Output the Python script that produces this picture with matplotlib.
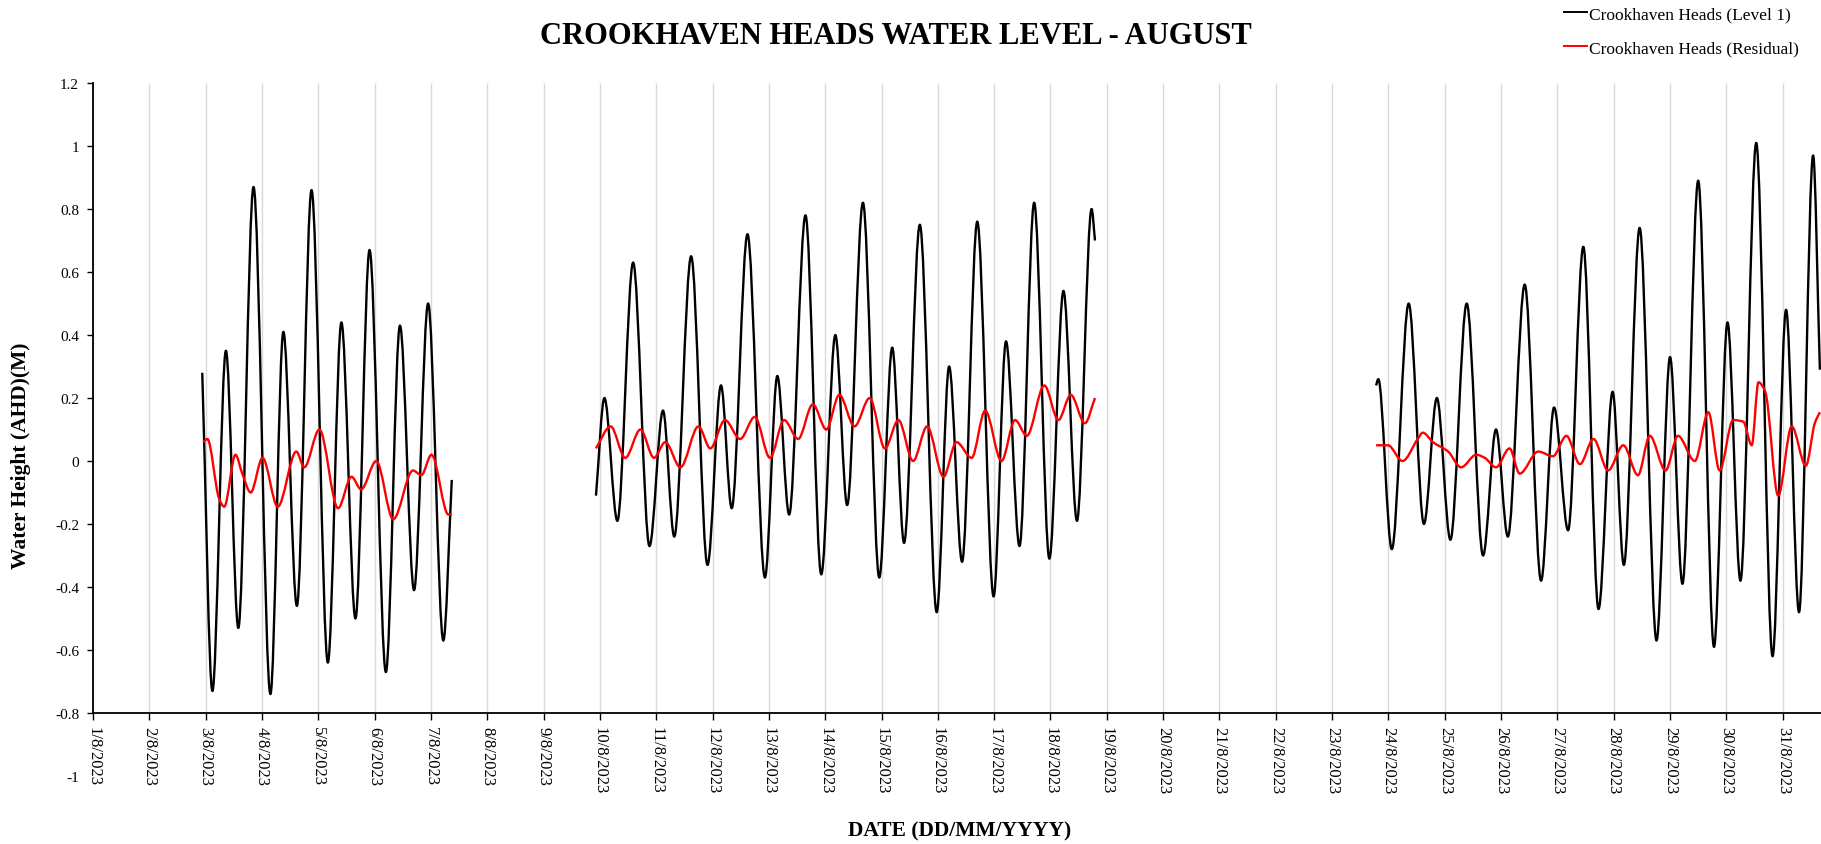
import matplotlib
matplotlib.use("Agg")
import numpy as np
import matplotlib.pyplot as plt
from matplotlib.lines import Line2D
from matplotlib.path import Path
from matplotlib.patches import PathPatch

plt.rcParams["font.family"] = ["Liberation Serif", "DejaVu Serif"]

# Time axis is the day of August 2023 (fractional days)
level_t1 = [2.94, 3.12, 3.36, 3.58, 3.85, 4.15, 4.38, 4.62, 4.88, 5.17, 5.41, 5.66,
            5.91, 6.20, 6.45, 6.70, 6.95, 7.22, 7.37]
level_v1 = [0.28, -0.73, 0.35, -0.53, 0.87, -0.74, 0.41, -0.46, 0.86, -0.64, 0.44, -0.50,
            0.67, -0.67, 0.43, -0.41, 0.50, -0.57, -0.06]

level_t2 = [9.93, 10.08, 10.31, 10.59, 10.88, 11.12, 11.32, 11.62, 11.91, 12.15, 12.34,
            12.62, 12.93, 13.15, 13.36, 13.65, 13.93, 14.18, 14.39, 14.67, 14.96, 15.19,
            15.40, 15.68, 15.98, 16.20, 16.43, 16.70, 16.99, 17.21, 17.45, 17.71, 17.98,
            18.23, 18.47, 18.73, 18.79]
level_v2 = [-0.11, 0.20, -0.19, 0.63, -0.27, 0.16, -0.24, 0.65, -0.33, 0.24, -0.15,
            0.72, -0.37, 0.27, -0.17, 0.78, -0.36, 0.40, -0.14, 0.82, -0.37, 0.36,
            -0.26, 0.75, -0.48, 0.30, -0.32, 0.76, -0.43, 0.38, -0.27, 0.82, -0.31,
            0.54, -0.19, 0.80, 0.70]

level_t3 = [23.78, 23.82, 24.06, 24.36, 24.63, 24.86, 25.10, 25.39, 25.68, 25.91, 26.12,
            26.42, 26.71, 26.94, 27.19, 27.46, 27.73, 27.98, 28.18, 28.46, 28.76, 29.00,
            29.22, 29.50, 29.78, 30.02, 30.25, 30.53, 30.82, 31.06, 31.29, 31.54, 31.66]
level_v3 = [0.24, 0.26, -0.28, 0.50, -0.20, 0.20, -0.25, 0.50, -0.30, 0.10, -0.24,
            0.56, -0.38, 0.17, -0.22, 0.68, -0.47, 0.22, -0.33, 0.74, -0.57, 0.33,
            -0.39, 0.89, -0.59, 0.44, -0.38, 1.01, -0.62, 0.48, -0.48, 0.97, 0.29]

resid_t1 = [2.96, 3.03, 3.24, 3.33, 3.53, 3.65, 3.80, 4.01, 4.28, 4.61, 4.75, 5.02,
            5.35, 5.59, 5.76, 6.03, 6.33, 6.68, 6.83, 7.01, 7.31, 7.37]
resid_v1 = [0.06, 0.07, -0.12, -0.145, 0.02, -0.04, -0.10, 0.01, -0.145, 0.03, -0.02, 0.10,
            -0.15, -0.05, -0.09, 0.0, -0.185, -0.03, -0.045, 0.02, -0.17, -0.17]

resid_t2 = [9.93, 10.19, 10.45, 10.72, 10.96, 11.16, 11.43, 11.75, 11.96, 12.22, 12.49,
            12.75, 13.02, 13.27, 13.52, 13.78, 14.02, 14.25, 14.52, 14.79, 15.06, 15.30,
            15.56, 15.81, 16.10, 16.33, 16.60, 16.84, 17.13, 17.37, 17.58, 17.89, 18.14,
            18.36, 18.61, 18.79]
resid_v2 = [0.04, 0.11, 0.01, 0.10, 0.01, 0.06, -0.02, 0.11, 0.04, 0.13, 0.07,
            0.14, 0.01, 0.13, 0.07, 0.18, 0.10, 0.21, 0.11, 0.20, 0.04, 0.13,
            0.0, 0.11, -0.05, 0.06, 0.01, 0.16, 0.0, 0.13, 0.08, 0.24, 0.13,
            0.21, 0.12, 0.20]

resid_t3 = [23.78, 23.99, 24.25, 24.52, 24.61, 24.79, 25.06, 25.29, 25.56, 25.71, 25.91,
            26.15, 26.33, 26.66, 26.92, 27.16, 27.40, 27.64, 27.90, 28.17, 28.43, 28.64,
            28.92, 29.14, 29.44, 29.68, 29.88, 30.12, 30.30, 30.45, 30.57, 30.69, 30.92,
            31.16, 31.41, 31.57, 31.66]
resid_v3 = [0.05, 0.05, 0.0, 0.07, 0.09, 0.06, 0.03, -0.02, 0.02, 0.01, -0.02,
            0.04, -0.04, 0.03, 0.015, 0.08, -0.01, 0.07, -0.03, 0.05, -0.045, 0.08,
            -0.03, 0.08, 0.0, 0.155, -0.03, 0.13, 0.125, 0.05, 0.25, 0.22, -0.11,
            0.11, -0.015, 0.12, 0.155]

tick_days = list(range(1, 32))
tick_labels = [f"{d}/8/2023" for d in tick_days]
y_ticks = [-1, -0.8, -0.6, -0.4, -0.2, 0, 0.2, 0.4, 0.6, 0.8, 1, 1.2]
y_labels = ["-1", "-0.8", "-0.6", "-0.4", "-0.2", "0", "0.2", "0.4", "0.6", "0.8", "1", "1.2"]

LEVEL_COLOR = "black"
RESID_COLOR = "#ff0000"
LINE_W = 1.7


def smoothed_line(ax, t, v, color, lw):
    """Smoothed line through the readings (monotone cubic Bezier segments)."""
    t = np.asarray(t, float)
    v = np.asarray(v, float)
    h = np.diff(t)
    d = np.diff(v) / h
    m = np.empty_like(v)
    m[0], m[-1] = d[0], d[-1]
    for i in range(1, len(v) - 1):
        if d[i - 1] * d[i] <= 0:
            m[i] = 0.0
        else:
            m[i] = 2.0 / (1.0 / d[i - 1] + 1.0 / d[i])
    verts = [(t[0], v[0])]
    codes = [Path.MOVETO]
    for i in range(len(v) - 1):
        verts += [(t[i] + h[i] / 3, v[i] + m[i] * h[i] / 3),
                  (t[i + 1] - h[i] / 3, v[i + 1] - m[i + 1] * h[i] / 3),
                  (t[i + 1], v[i + 1])]
        codes += [Path.CURVE4] * 3
    patch = PathPatch(Path(verts, codes), fill=False, edgecolor=color, lw=lw,
                      joinstyle="round", capstyle="butt", zorder=3)
    ax.add_patch(patch)


fig = plt.figure(figsize=(18.21, 8.45), dpi=100)
ax = fig.add_axes([93 / 1821, 68 / 845, 1 - 93 / 1821, 0.8201])

# Vertical day gridlines, drawn only over the area above the date axis
ax.vlines(tick_days, -0.8, 1.2, color="#d9d9d9", lw=1.0, zorder=0)

for t, v in [(level_t1, level_v1), (level_t2, level_v2), (level_t3, level_v3)]:
    smoothed_line(ax, t, v, LEVEL_COLOR, LINE_W)
for t, v in [(resid_t1, resid_v1), (resid_t2, resid_v2), (resid_t3, resid_v3)]:
    smoothed_line(ax, t, v, RESID_COLOR, LINE_W)

ax.set_xlim(1, 31.68)
ax.set_ylim(-1, 1.2)

ax.spines["top"].set_visible(False)
ax.spines["right"].set_visible(False)
ax.spines["bottom"].set_position(("data", -0.8))
ax.spines["left"].set_bounds(-0.8, 1.2)
for s in ("bottom", "left"):
    ax.spines[s].set_linewidth(1.3)

ax.set_yticks(y_ticks)
ax.set_yticklabels(y_labels, fontsize=11)
ax.yaxis.get_major_ticks()[0].tick1line.set_visible(False)
ax.tick_params(axis="y", length=4, width=1, pad=6)

ax.set_xticks(tick_days)
ax.set_xticklabels(tick_labels, rotation=270, fontsize=12, ha="center", va="top")
ax.tick_params(axis="x", length=5, width=1, pad=4)

fig.text(21 / 1821, 1 - 456 / 845, "Water Height (AHD)(M)", rotation=90, fontsize=15.5,
         fontweight="bold", ha="center", va="center")
fig.text(960 / 1821, 1 - 831 / 845, "DATE (DD/MM/YYYY)", fontsize=15.5,
         fontweight="bold", ha="center", va="center")
fig.text(896 / 1821, 1 - 37 / 845, "CROOKHAVEN HEADS WATER LEVEL - AUGUST", fontsize=22,
         fontweight="bold", ha="center", va="center")

handles = [Line2D([], [], color=LEVEL_COLOR, lw=1.4), Line2D([], [], color=RESID_COLOR, lw=1.4)]
fig.legend(handles, ["Crookhaven Heads (Level 1)", "Crookhaven Heads (Residual)"],
           loc="upper left", bbox_to_anchor=(1557 / 1821, 1.0), frameon=False,
           fontsize=12.5, handlelength=1.32, handletextpad=0.1, labelspacing=1.05,
           borderaxespad=0.0)

fig.savefig("out.png", dpi=100)
